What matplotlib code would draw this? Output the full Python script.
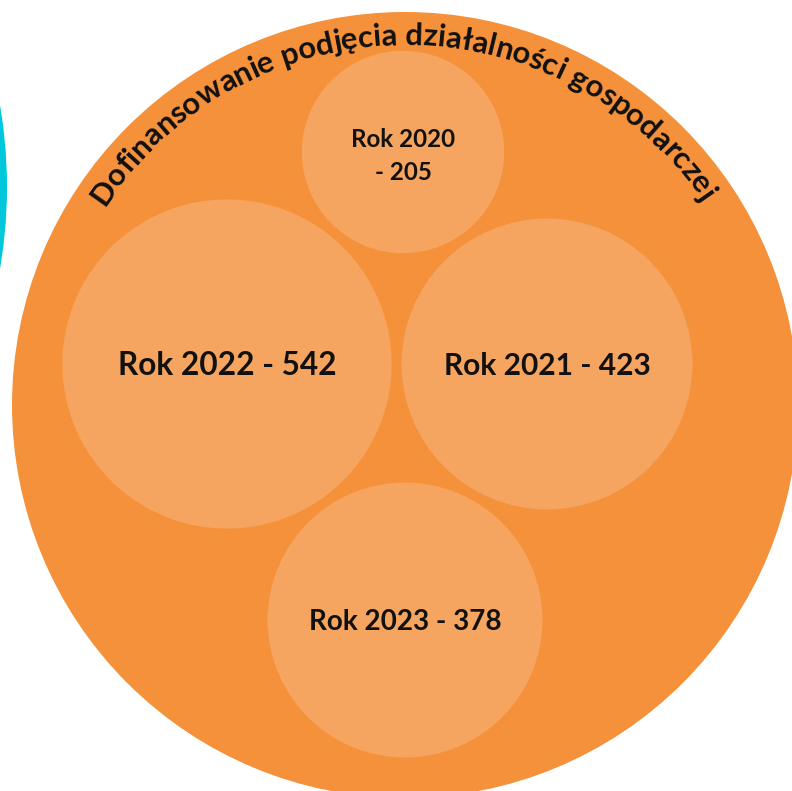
import numpy as np
import matplotlib.pyplot as plt
from matplotlib.patches import Circle
from matplotlib.font_manager import FontProperties
from matplotlib.textpath import TextToPath

# data
title = "Dofinansowanie podjęcia działalności gospodarczej"
years = ["2022", "2021", "2023", "2020"]
values = [542, 423, 378, 205]

# layout (pixels, image coordinates)
W, H = 792, 791
outer_c, outer_r = (405, 405), 393
centers = [(227, 364), (547, 364), (405, 620), (403, 152)]
label_pt = [22.8, 21.5, 20.1, 17.4]
r_scale = 7.07  # px per sqrt(value)

orange = "#f5913a"
light = "#f5a55f"
cyan = "#00c8dc"

fig = plt.figure(figsize=(W / 100, H / 100), dpi=100)
ax = fig.add_axes([0, 0, 1, 1])
ax.set_xlim(0, W)
ax.set_ylim(H, 0)
ax.set_aspect("equal")
ax.axis("off")

# neighbouring cyan circle peeking in from the left
ax.add_patch(Circle((-477, 187), 484, color=cyan, lw=0))
ax.add_patch(Circle(outer_c, outer_r, color=orange, lw=0))

PX = 100 / 72  # points -> pixels
for (cx, cy), yr, v, fs in zip(centers, years, values, label_pt):
    r = r_scale * np.sqrt(v)
    ax.add_patch(Circle((cx, cy), r, color=light, lw=0))
    cap = 0.72 * fs * PX
    if r > 120:
        ax.text(cx, cy + cap / 2, f"Rok {yr} - {v}", ha="center", va="baseline",
                fontsize=fs, fontfamily="Lato", fontweight="bold", color="#111111")
    else:
        ax.text(cx, cy - 5, f"Rok {yr}", ha="center", va="baseline",
                fontsize=fs, fontfamily="Lato", fontweight="bold", color="#111111")
        ax.text(cx, cy + 28, f"- {v}", ha="center", va="baseline",
                fontsize=fs, fontfamily="Lato", fontweight="bold", color="#111111")

# curved title along the top of the big circle
title_pt = 22.3
prop = FontProperties(family="Lato", weight="bold", size=title_pt)
ttp = TextToPath()
base_w = ttp.get_text_width_height_descent("xx", prop, ismath=False)[0]
widths = []
for ch in title:
    w = ttp.get_text_width_height_descent("x" + ch + "x", prop, ismath=False)[0] - base_w
    widths.append(w * PX)
widths = np.array(widths)
total = widths.sum()
R_text = 360
mid = np.deg2rad(90.5)
s = np.cumsum(widths) - widths / 2 - total / 2
for ch, si in zip(title, s):
    th = mid - si / R_text
    x = outer_c[0] + R_text * np.cos(th)
    y = outer_c[1] - R_text * np.sin(th)
    ax.text(x, y, ch, ha="center", va="baseline", rotation=np.rad2deg(th) - 90,
            rotation_mode="anchor", fontproperties=prop, color="#111111")

fig.savefig("out.png", dpi=100)
